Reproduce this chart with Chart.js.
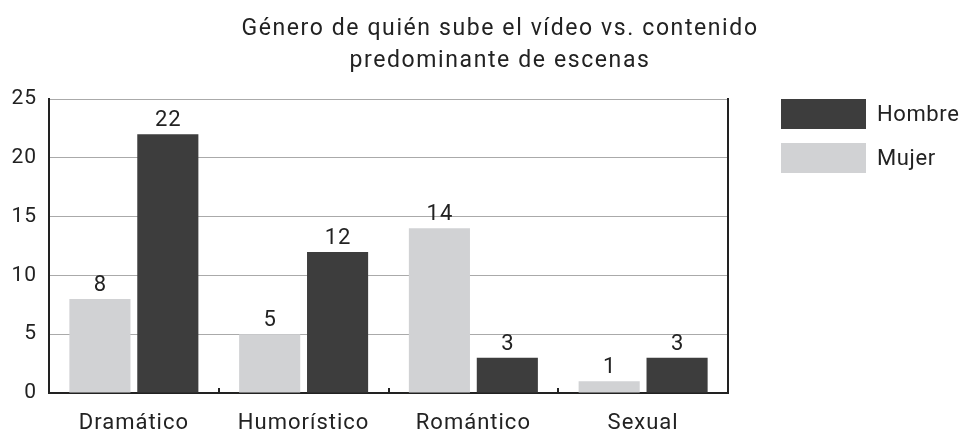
<!DOCTYPE html>
<html>
<head>
<meta charset="utf-8">
<script src="https://cdn.jsdelivr.net/npm/chart.js@4/dist/chart.umd.min.js"></script>
<style>
  html, body { margin: 0; padding: 0; background: #ffffff; }
  #wrap { position: relative; width: 962px; height: 431px; }
</style>
</head>
<body>
<div id="wrap"><canvas id="c" width="962" height="431"></canvas></div>
<script>
const titleLines = ["Género de quién sube el vídeo vs. contenido", "predominante de escenas"];
const categories = ["Dramático", "Humorístico", "Romántico", "Sexual"];
const mujerValues = [8, 5, 14, 1];
const hombreValues = [22, 12, 3, 3];
const seriesNames = ["Mujer", "Hombre"];
const yTicks = [0, 5, 10, 15, 20, 25];

const FONT = "Roboto, 'Liberation Sans', sans-serif";
const TEXT = "#222222";
const DARK = "#3d3d3d";
const LIGHT = "#d1d2d4";

function setSpacing(ctx, v) {
  if ('letterSpacing' in ctx) ctx.letterSpacing = v;
}

const spacingPlugin = {
  id: 'spacing',
  beforeDraw(chart) { setSpacing(chart.ctx, '1px'); }
};

const titlePlugin = {
  id: 'customTitle',
  afterDraw(chart) {
    const ctx = chart.ctx;
    ctx.save();
    setSpacing(ctx, '1.6px');
    ctx.font = "23px " + FONT;
    ctx.fillStyle = TEXT;
    ctx.textAlign = 'center';
    ctx.textBaseline = 'alphabetic';
    const cx = 500;
    ctx.fillText(titleLines[0], cx, 35);
    ctx.fillText(titleLines[1], cx, 67);
    ctx.restore();
  }
};

const legendPlugin = {
  id: 'customLegend',
  afterDraw(chart) {
    const ctx = chart.ctx;
    ctx.save();
    setSpacing(ctx, '0.6px');
    const order = [1, 0];
    order.forEach((di, k) => {
      const ds = chart.data.datasets[di];
      const y = 99 + k * 44;
      ctx.fillStyle = ds.backgroundColor;
      ctx.fillRect(781, y, 85, 30);
      ctx.fillStyle = TEXT;
      ctx.font = "22px " + FONT;
      ctx.textAlign = 'left';
      ctx.textBaseline = 'middle';
      ctx.fillText(ds.label, 877, y + 16);
    });
    ctx.restore();
  }
};

const valueLabelPlugin = {
  id: 'valueLabels',
  afterDatasetsDraw(chart) {
    const ctx = chart.ctx;
    ctx.save();
    setSpacing(ctx, '1px');
    ctx.font = "22px " + FONT;
    ctx.fillStyle = TEXT;
    ctx.textAlign = 'center';
    ctx.textBaseline = 'alphabetic';
    chart.data.datasets.forEach((ds, di) => {
      const meta = chart.getDatasetMeta(di);
      meta.data.forEach((bar, i) => {
        ctx.fillText(String(ds.data[i]), bar.x + 0.5, bar.y - 8);
      });
    });
    ctx.restore();
  }
};

const innerTicksPlugin = {
  id: 'innerTicks',
  afterDraw(chart) {
    const xs = chart.scales.x;
    const ctx = chart.ctx;
    const bottom = chart.chartArea.bottom;
    ctx.save();
    ctx.strokeStyle = "#222222";
    ctx.lineWidth = 2;
    for (let i = 0; i < categories.length - 1; i++) {
      const px = Math.round((xs.getPixelForValue(i) + xs.getPixelForValue(i + 1)) / 2);
      ctx.beginPath();
      ctx.moveTo(px, bottom - 5);
      ctx.lineTo(px, bottom);
      ctx.stroke();
    }
    ctx.restore();
  }
};

new Chart(document.getElementById('c'), {
  type: 'bar',
  data: {
    labels: categories,
    datasets: [
      { label: seriesNames[0], data: mujerValues, backgroundColor: LIGHT, categoryPercentage: 0.8, barPercentage: 0.9 },
      { label: seriesNames[1], data: hombreValues, backgroundColor: DARK, categoryPercentage: 0.8, barPercentage: 0.9 }
    ]
  },
  options: {
    responsive: false,
    animation: false,
    devicePixelRatio: 1,
    layout: { padding: { top: 99, right: 234, bottom: 0, left: 0 } },
    plugins: {
      legend: { display: false },
      title: { display: false },
      tooltip: { enabled: false }
    },
    scales: {
      x: {
        grid: { display: false },
        border: { display: true, color: "#222222", width: 2 },
        ticks: { color: TEXT, font: { family: FONT, size: 22 }, padding: 9 },
        afterFit(s) { s.height = 38; }
      },
      y: {
        min: 0, max: 25,
        afterBuildTicks(s) { s.ticks = yTicks.map(v => ({ value: v })); },
        grid: { color: "#aaaaaa", lineWidth: 1, drawTicks: false },
        border: { display: true, color: "#222222", width: 2 },
        ticks: { color: TEXT, font: { family: FONT, size: 21 }, padding: 12 },
        afterFit(s) { s.width = 49; }
      },
      y2: {
        position: 'right',
        min: 0, max: 25,
        grid: { display: false, drawTicks: false },
        border: { display: true, color: "#222222", width: 2 },
        ticks: { display: false },
        afterFit(s) { s.width = 0; }
      }
    }
  },
  plugins: [spacingPlugin, titlePlugin, legendPlugin, valueLabelPlugin, innerTicksPlugin]
});
</script>
</body>
</html>
